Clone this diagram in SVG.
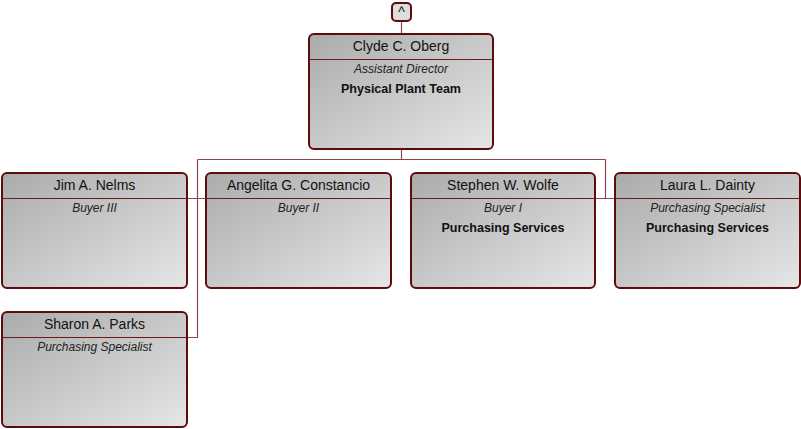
<svg xmlns="http://www.w3.org/2000/svg" width="801" height="429" viewBox="0 0 801 429">
<defs>
<linearGradient id="g" x1="0" y1="0" x2="1" y2="1"><stop offset="0" stop-color="#ababab"/><stop offset="1" stop-color="#e6e6e6"/></linearGradient>
<style>
.box{fill:url(#g);stroke:#5e0b0b;stroke-width:2}
.sep{stroke:#6e1a1a;stroke-width:1}
.c{fill:none;stroke:#8a4a4a;stroke-width:1.2}
.n{font-family:"Liberation Sans",Arial,sans-serif;font-size:14px;fill:#111;text-anchor:middle}
.t{font-family:"Liberation Sans",Arial,sans-serif;font-size:12px;font-style:italic;fill:#222;text-anchor:middle}
.d{font-family:"Liberation Sans",Arial,sans-serif;font-size:12.5px;font-weight:bold;fill:#111;text-anchor:middle}
</style>
</defs>
<g id="connectors">
<path class="c" d="M401.5 21V34M401.5 149V159.5M197.5 159.5H605.5M197.5 159.5V337.5H187M605.5 159.5V198.5M187 198.5H207M590 198.5H615"/>
</g>
<g id="collapse"><rect x="392" y="3" width="19" height="18" rx="4" fill="#ddd" stroke="#5e0b0b" stroke-width="2"/><text x="401.5" y="17" class="n" font-size="13">^</text></g>
<g id="n-oberg"><rect class="box" x="309" y="34" width="184" height="115" rx="5"/><line class="sep" x1="309" y1="59.5" x2="493" y2="59.5"/><text class="n" x="401" y="51">Clyde C. Oberg</text><text class="t" x="401" y="73">Assistant Director</text><text class="d" x="401" y="93">Physical Plant Team</text></g>
<g id="n-nelms"><rect class="box" x="2" y="173" width="185" height="115" rx="5"/><line class="sep" x1="2" y1="198.5" x2="187" y2="198.5"/><text class="n" x="94.5" y="190">Jim A. Nelms</text><text class="t" x="94.5" y="212">Buyer III</text></g>
<g id="n-constancio"><rect class="box" x="206" y="173" width="185" height="115" rx="5"/><line class="sep" x1="206" y1="198.5" x2="391" y2="198.5"/><text class="n" x="298.5" y="190">Angelita G. Constancio</text><text class="t" x="298.5" y="212">Buyer II</text></g>
<g id="n-wolfe"><rect class="box" x="411" y="173" width="184" height="115" rx="5"/><line class="sep" x1="411" y1="198.5" x2="595" y2="198.5"/><text class="n" x="503" y="190">Stephen W. Wolfe</text><text class="t" x="503" y="212">Buyer I</text><text class="d" x="503" y="232">Purchasing Services</text></g>
<g id="n-dainty"><rect class="box" x="615" y="173" width="185" height="115" rx="5"/><line class="sep" x1="615" y1="198.5" x2="800" y2="198.5"/><text class="n" x="707.5" y="190">Laura L. Dainty</text><text class="t" x="707.5" y="212">Purchasing Specialist</text><text class="d" x="707.5" y="232">Purchasing Services</text></g>
<g id="n-parks"><rect class="box" x="2" y="312" width="185" height="115" rx="5"/><line class="sep" x1="2" y1="337.5" x2="187" y2="337.5"/><text class="n" x="94.5" y="329">Sharon A. Parks</text><text class="t" x="94.5" y="351">Purchasing Specialist</text></g>
</svg>
